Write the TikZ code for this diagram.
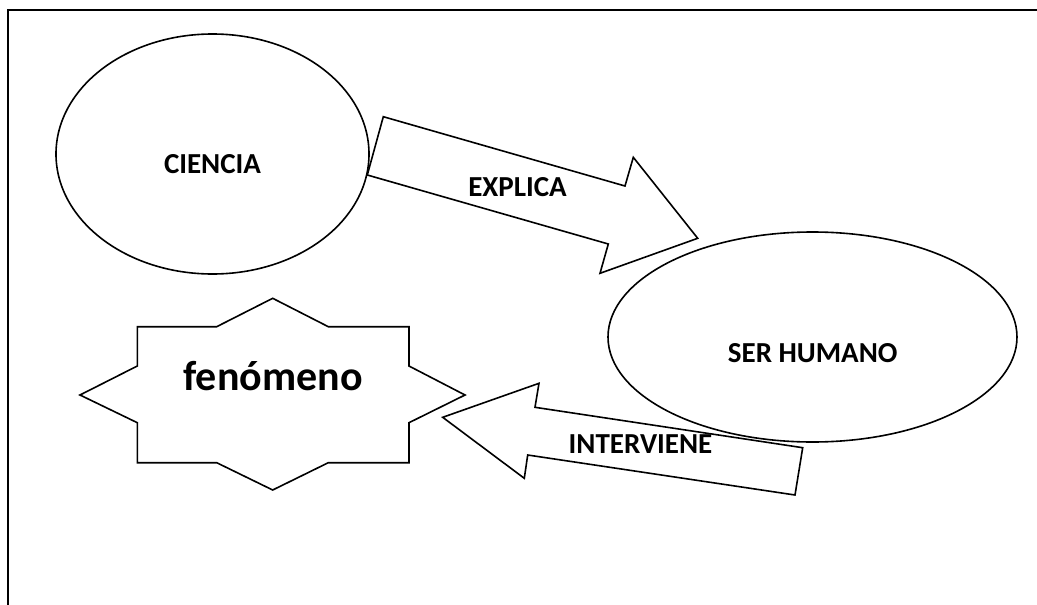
\documentclass[tikz,border=0pt]{standalone}
\usepackage{fontspec}
\setmainfont{Carlito}
\usetikzlibrary{shapes.geometric}
\begin{document}
\begin{tikzpicture}[x=1pt,y=-1pt,
  outl/.style={draw=black,line width=1.6pt,line join=miter},
  oval/.style={outl,ellipse,inner sep=0pt},
  lbl/.style={anchor=base,inner sep=0pt,font=\fontsize{29}{35}\selectfont\bfseries},
  biglbl/.style={anchor=base,inner sep=0pt,font=\fontsize{42}{50}\selectfont\bfseries}]
\useasboundingbox (0,0) rectangle (1037,605);
% frame
\draw[line width=1.8pt] (8,605) -- (8,10) -- (1037,10);
% ellipses
\node[oval,minimum width=313pt,minimum height=240pt] (ciencia) at (212.5,154) {};
\node[lbl] (cienciat) at (212.5,173) {CIENCIA};
\node[oval,minimum width=409pt,minimum height=210pt] (humano) at (812.5,337) {};
\node[lbl] (humanot) at (812.7,362) {SER HUMANO};
% star
\coordinate (fc) at (272.7,394);
\draw[outl] (272.7,298.3) -- (328.3,326.7) -- (409,326.7) -- (409,366) -- (465,395)
  -- (409,422.7) -- (409,462.7) -- (328.3,462.7) -- (272.7,490) -- (216.7,462.7)
  -- (137.3,462.7) -- (137.3,422.7) -- (80,395) -- (137.3,366) -- (137.3,326.7)
  -- (216.7,326.7) -- cycle;
\node[biglbl] (fenomeno) at (273,390) {fenómeno};
% EXPLICA arrow
\draw[outl] (383.3,116.7) -- (625,186) -- (633.3,157.3) -- (697.7,238.3)
  -- (600,273.3) -- (608.3,244) -- (367.3,175) -- cycle;
\node[lbl] (explica) at (517.5,196) {EXPLICA};
% INTERVIENE arrow
\draw[outl] (442.7,417.3) -- (539,383.3) -- (535,407.3) -- (802.7,447.7)
  -- (795,495) -- (527.7,455) -- (524.3,478.3) -- cycle;
\node[lbl] (interviene) at (640.5,453) {INTERVIENE};
\end{tikzpicture}
\end{document}
